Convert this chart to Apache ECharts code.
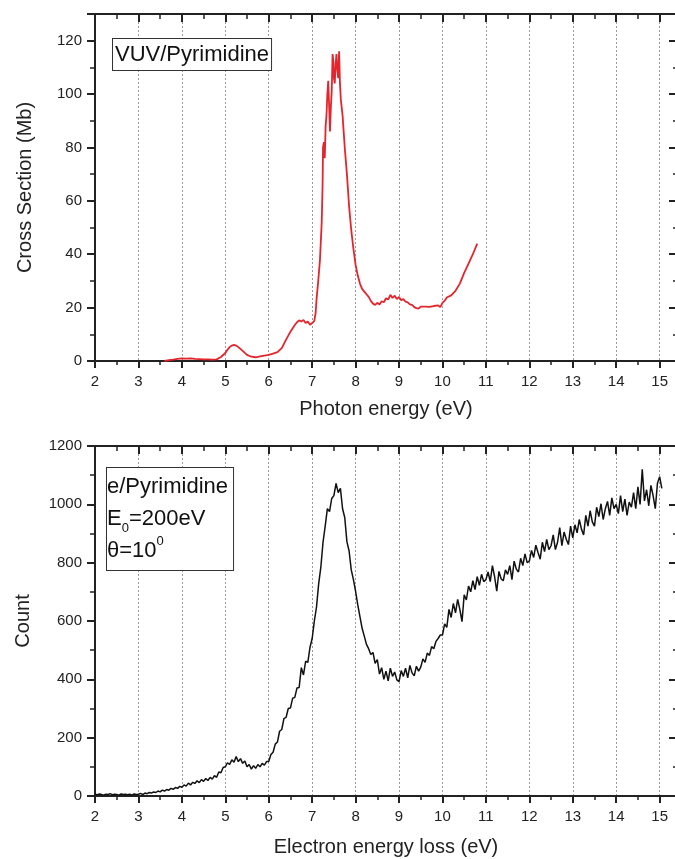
<!DOCTYPE html>
<html><head><meta charset="utf-8">
<script src="https://cdn.jsdelivr.net/npm/echarts@6/dist/echarts.min.js"></script>
<style>html,body{margin:0;padding:0;background:#fff}#c{width:675px;height:859px}</style>
</head><body><div id="c"></div>
<script>
// ---------- DATA ----------
const vuvEnergy = [3.60,3.70,3.80,3.90,4.00,4.10,4.20,4.30,4.40,4.50,4.60,4.70,4.80,4.90,5.00,5.05,5.10,5.15,5.20,5.25,5.30,5.40,5.50,5.60,5.70,5.80,5.90,6.00,6.10,6.20,6.30,6.40,6.50,6.60,6.65,6.70,6.75,6.80,6.85,6.90,6.95,7.00,7.05,7.08,7.10,7.14,7.18,7.20,7.22,7.24,7.25,7.27,7.29,7.31,7.33,7.35,7.37,7.39,7.41,7.43,7.45,7.47,7.49,7.50,7.52,7.54,7.56,7.58,7.60,7.62,7.64,7.66,7.70,7.75,7.80,7.85,7.90,7.95,8.00,8.05,8.10,8.15,8.20,8.25,8.30,8.35,8.40,8.45,8.50,8.55,8.60,8.65,8.70,8.75,8.80,8.85,8.90,8.95,9.00,9.05,9.10,9.15,9.20,9.25,9.30,9.35,9.40,9.45,9.50,9.60,9.70,9.80,9.90,9.95,10.00,10.05,10.10,10.20,10.30,10.40,10.50,10.60,10.70,10.80];
const vuvCross = [0,0.3,0.5,0.8,1.0,0.9,1.0,0.8,0.7,0.6,0.6,0.5,0.6,1.5,3.0,4.2,5.2,5.8,6.0,5.8,5.2,3.8,2.3,1.6,1.4,1.7,2.0,2.3,2.8,3.3,4.8,8.0,11.0,13.5,14.5,15.2,14.8,15.4,14.2,14.8,13.6,14.2,15.0,18,23,30,38,45,52,66,80,82,76,88,92,100,105,96,86,95,101,115,112,106,104,111,115,109,106,116,104,98,92,80,70,58,49,42,36,32,29,27,26,25,24,22.5,21.5,21,21.8,21.2,22.4,22.0,23.5,23.0,24.8,23.6,24.5,23.2,24.0,22.8,23.2,22.2,22.0,21.2,21.0,20.2,19.8,19.6,20.4,20.4,20.3,20.6,20.8,20.2,21.8,22.6,23.8,24.6,26.3,29,33,36.5,40,44];

const eelsEnergy = [
2.00,2.05,2.10,2.15,2.20,2.25,2.30,2.35,2.40,2.45,2.50,2.55,2.60,2.65,2.70,2.75,2.80,2.85,2.90,2.95,
3.00,3.05,3.10,3.15,3.20,3.25,3.30,3.35,3.40,3.45,3.50,3.55,3.60,3.65,3.70,3.75,3.80,3.85,3.90,3.95,
4.00,4.05,4.10,4.15,4.20,4.25,4.30,4.35,4.40,4.45,4.50,4.55,4.60,4.65,4.70,4.75,4.80,4.85,4.90,4.95,
5.00,5.05,5.10,5.15,5.20,5.25,5.30,5.35,5.40,5.45,5.50,5.55,5.60,5.65,5.70,5.75,5.80,5.85,5.90,5.95,
6.00,6.05,6.10,6.15,6.20,6.25,6.30,6.35,6.40,6.45,6.50,6.55,6.60,6.65,6.70,6.75,6.80,6.85,6.90,6.95,
7.00,7.05,7.10,7.15,7.20,7.25,7.30,7.35,7.40,7.45,7.50,7.55,7.60,7.65,7.70,7.75,7.80,7.85,7.90,7.95,
8.00,8.05,8.10,8.15,8.20,8.25,8.30,8.35,8.40,8.45,8.50,8.55,8.60,8.65,8.70,8.75,8.80,8.85,8.90,8.95,
9.00,9.05,9.10,9.15,9.20,9.25,9.30,9.35,9.40,9.45,9.50,9.55,9.60,9.65,9.70,9.75,9.80,9.85,9.90,9.95,
10.00,10.05,10.10,10.15,10.20,10.25,10.30,10.35,10.40,10.45,10.50,10.55,10.60,10.65,10.70,10.75,10.80,10.85,10.90,10.95,
11.00,11.05,11.10,11.15,11.20,11.25,11.30,11.35,11.40,11.45,11.50,11.55,11.60,11.65,11.70,11.75,11.80,11.85,11.90,11.95,
12.00,12.05,12.10,12.15,12.20,12.25,12.30,12.35,12.40,12.45,12.50,12.55,12.60,12.65,12.70,12.75,12.80,12.85,12.90,12.95,
13.00,13.05,13.10,13.15,13.20,13.25,13.30,13.35,13.40,13.45,13.50,13.55,13.60,13.65,13.70,13.75,13.80,13.85,13.90,13.95,
14.00,14.05,14.10,14.15,14.20,14.25,14.30,14.35,14.40,14.45,14.50,14.55,14.60,14.65,14.70,14.75,14.80,14.85,14.90,14.95,
15.00,15.05];
const eelsCount = [
6,4,7,5,3,6,5,8,4,6,5,3,7,5,6,4,6,3,7,5,
6,9,5,10,8,12,10,14,12,17,14,20,17,22,20,26,23,29,26,33,
30,38,34,44,38,47,43,52,46,56,50,60,53,64,58,70,64,82,80,98,
100,114,108,124,116,135,118,128,112,120,100,108,92,104,95,108,100,112,106,118,
118,142,150,178,185,222,228,265,270,300,302,335,338,370,372,440,415,462,458,510,
540,600,648,728,785,870,925,985,975,1020,1030,1072,1040,1055,985,955,872,840,775,742,
702,655,615,575,548,520,505,485,492,455,468,418,440,400,428,395,438,410,425,398,
392,430,410,438,405,448,422,412,445,428,442,470,458,490,482,512,505,530,540,552,
552,590,578,640,612,660,628,674,640,598,690,672,720,700,738,708,752,722,760,735,
742,768,735,790,752,702,770,745,738,775,760,790,742,805,778,768,815,790,830,800,
805,842,818,860,835,812,870,838,880,845,858,895,845,870,920,858,905,880,862,925,
885,930,902,948,915,895,962,925,978,940,925,990,958,1002,948,985,1010,962,1022,985,
1000,968,1030,975,1018,962,1008,990,1040,985,1060,1000,1120,1012,1050,995,1065,1030,985,1072,
1095,1055];

const topXName = 'Photon energy (eV)';
const topYName = 'Cross Section (Mb)';
const botXName = 'Electron energy loss (eV)';
const botYName = 'Count';
const topLabel = 'VUV/Pyrimidine';

// ---------- CHART ----------
const FONT = '"Liberation Sans", Arial, sans-serif';
const AX = '#222';

function xBottom(g, name, gap) {
  return { type:'value', gridIndex:g, position:'bottom', min:2, max:15.4, interval:1,
    axisLine:{show:true,onZero:false,lineStyle:{color:AX,width:2}},
    axisTick:{show:true,inside:false,length:7,lineStyle:{color:AX,width:2}},
    minorTick:{show:true,splitNumber:2,length:4,lineStyle:{color:AX,width:1.5}},
    axisLabel:{show:true,margin:13,fontSize:15,color:AX,fontFamily:FONT,
      formatter:v=>Number.isInteger(v)?String(v):''},
    splitLine:{show:true,lineStyle:{color:'#9a9a9a',type:[2,2],width:1}},
    minorSplitLine:{show:false},
    name:name,nameLocation:'middle',nameGap:gap,
    nameTextStyle:{fontSize:20,color:AX,fontFamily:FONT}};
}
function xTop(g) {
  return { type:'value', gridIndex:g, position:'top', min:2, max:15.4, interval:1,
    axisLine:{show:true,onZero:false,lineStyle:{color:AX,width:2}},
    axisTick:{show:true,inside:true,length:8,lineStyle:{color:AX,width:2}},
    minorTick:{show:true,splitNumber:2,length:5,lineStyle:{color:AX,width:1.5}},
    axisLabel:{show:false}, splitLine:{show:false}};
}
function yLeft(g, max, interval, name, gap) {
  return { type:'value', gridIndex:g, position:'left', min:0, max:max, interval:interval,
    axisLine:{show:true,onZero:false,lineStyle:{color:AX,width:2}},
    axisTick:{show:true,inside:false,length:8,lineStyle:{color:AX,width:2}},
    minorTick:{show:true,splitNumber:2,length:5,lineStyle:{color:AX,width:1.5}},
    axisLabel:{show:true,margin:13,fontSize:15,color:AX,fontFamily:FONT,
      formatter:v=>(v%interval===0)?String(v):''},
    splitLine:{show:false},
    name:name,nameLocation:'middle',nameGap:gap,
    nameTextStyle:{fontSize:20,color:AX,fontFamily:FONT}};
}
function yRight(g, max, interval) {
  return { type:'value', gridIndex:g, position:'right', min:0, max:max, interval:interval,
    axisLine:{show:true,onZero:false,lineStyle:{color:AX,width:2}},
    axisTick:{show:true,inside:true,length:8,lineStyle:{color:AX,width:2}},
    minorTick:{show:true,splitNumber:2,length:4,lineStyle:{color:AX,width:1.5}},
    axisLabel:{show:false}, splitLine:{show:false}};
}

const chart = echarts.init(document.getElementById('c'), null, {renderer:'canvas'});
chart.setOption({
  animation:false,
  backgroundColor:'#fff',
  grid:[
    {left:95, top:14, width:582, height:347, containLabel:false, outerBoundsMode:'none'},
    {left:95, top:446, width:582, height:350, containLabel:false, outerBoundsMode:'none'}
  ],
  xAxis:[ xBottom(0, topXName, 38), xTop(0), xBottom(1, botXName, 41), xTop(1) ],
  yAxis:[ yLeft(0, 130, 20, topYName, 60), yRight(0, 130, 20), yLeft(1, 1200, 200, botYName, 62), yRight(1, 1200, 200) ],
  series:[
    { type:'line', xAxisIndex:0, yAxisIndex:0, showSymbol:false, symbol:'none',
      data: vuvEnergy.map((x,i)=>[x, vuvCross[i]]),
      lineStyle:{color:'#e3262d', width:1.8}, z:5 },
    { type:'line', xAxisIndex:2, yAxisIndex:2, showSymbol:false, symbol:'none',
      data: eelsEnergy.map((x,i)=>[x, eelsCount[i]]),
      lineStyle:{color:'#111', width:1.5}, z:5 }
  ],
  graphic:[
    { type:'text', left:112, top:38, z:100,
      style:{ text: topLabel, fontSize:22, fontFamily:FONT, fill:'#111',
        lineHeight:25, borderColor:'#333', borderWidth:1, padding:[3,2,3,2], backgroundColor:'#fff' } },
    { type:'text', left:106, top:467, z:100,
      style:{ text:'{a|e/Pyrimidine}\n{a|E}{sub|0}{a|=200eV}\n{a|θ=10}{sup|0}',
        fill:'#111', borderColor:'#333', borderWidth:1, padding:[3,5,3,0], backgroundColor:'#fff',
        rich:{
          a:{fontSize:22, fontFamily:FONT, lineHeight:32, fill:'#111', color:'#111'},
          sub:{fontSize:13, fontFamily:FONT, lineHeight:14, verticalAlign:'bottom', fill:'#111', color:'#111'},
          sup:{fontSize:13, fontFamily:FONT, lineHeight:14, verticalAlign:'top', fill:'#111', color:'#111'}
        } } }
  ]
});
</script></body></html>
